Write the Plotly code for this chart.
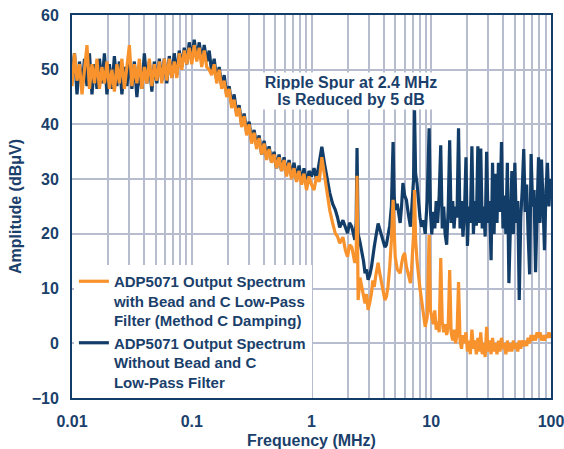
import plotly.graph_objects as go

# ---------------- data ----------------
freq_a = [0.01, 0.01049, 0.01101, 0.01155, 0.01212, 0.01271, 0.01334, 0.01399, 0.01468, 0.0154,
          0.01616, 0.01695, 0.01778, 0.01866, 0.01957, 0.02054, 0.02154, 0.0226, 0.02371, 0.02488,
          0.0261, 0.02738, 0.02873, 0.03014, 0.03162, 0.03318, 0.03481, 0.03652, 0.03831, 0.0402,
          0.04217, 0.04424, 0.04642, 0.0487, 0.05109, 0.0536, 0.05623, 0.059, 0.0619, 0.06494,
          0.06813, 0.07148, 0.07499, 0.07868, 0.08254, 0.0866, 0.09085, 0.09532]
blue_a = [49, 53, 45.5, 51.5, 46.5, 52, 47, 53, 45.5, 51,
          46.5, 52, 47.5, 53, 45.5, 51, 46.5, 52.5, 47, 51.5,
          45.5, 50.5, 47, 52, 46.5, 51.5, 45, 50, 46.5, 53,
          47.5, 51.5, 46, 51.5, 47.5, 52, 48, 52, 47.5, 52.5,
          48.5, 53, 49, 53.5, 50.5, 54, 51, 55]
orange_a = [47, 53, 48, 51, 45.5, 50, 54.5, 46.5, 51, 47.5,
            52, 46.5, 50.5, 47.5, 51.5, 46.5, 50, 46, 51, 47.5,
            52, 46.5, 51, 54.5, 47, 51, 47.5, 52, 46.5, 50.5,
            47.5, 52, 47, 51, 48, 51.5, 47.5, 52, 48, 52,
            48.5, 51.5, 48.5, 53, 50, 53.5, 51, 54]

freq_b = [0.1, 0.1049, 0.1101, 0.1155, 0.1212, 0.1271, 0.1334, 0.1399, 0.1468, 0.154,
          0.1616, 0.1695, 0.1778, 0.1866, 0.1957, 0.2054, 0.2154, 0.226, 0.2371, 0.2488,
          0.261, 0.2738, 0.2873, 0.3014, 0.3162, 0.3318, 0.3481, 0.3652, 0.3831, 0.402,
          0.4217, 0.4424, 0.4642, 0.487, 0.5109, 0.536, 0.5623, 0.59, 0.619, 0.6494,
          0.6813, 0.7148, 0.7499, 0.7868, 0.8254, 0.866, 0.9085, 0.9532]
blue_b = [52, 55.5, 52, 55, 51.5, 54.5, 51.5, 53.5, 49.5, 52,
          48, 50.5, 47, 49, 45.5, 47, 43.5, 45.5, 42, 43.5,
          40, 42, 38.5, 40.5, 37, 39, 36, 38, 34.5, 37,
          34, 36, 33, 35, 32, 34.5, 31.5, 34, 31, 33.5,
          30.5, 33, 30, 32.5, 29.5, 32, 29, 31.5]
orange_b = [51, 54.5, 51.5, 54, 50.5, 53.5, 50.5, 50, 49, 51,
            47.5, 50, 46.5, 48, 45, 46.5, 43, 44.5, 41.5, 43,
            39.5, 41.5, 38, 40, 36.5, 38.5, 35.5, 37.5, 34.5, 36.5,
            33.5, 35.5, 33, 34.5, 32, 34, 31.5, 33.5, 30.5, 33,
            30, 32, 29.5, 31.5, 29, 31, 28, 30.5]

freq_c = [1.0, 1.05, 1.1, 1.16, 1.22, 1.28, 1.34, 1.42, 1.5, 1.58,
          1.65, 1.72, 1.83, 1.92, 2.0, 2.08, 2.17, 2.3, 2.36, 2.4,
          2.45, 2.54, 2.63, 2.72, 2.8, 2.88, 2.97, 3.07, 3.17, 3.25,
          3.34, 3.45, 3.6, 3.7, 3.8, 3.95, 4.1, 4.22, 4.35, 4.5,
          4.65, 4.8, 4.9, 5.0, 5.2, 5.5, 5.65, 5.8, 6.0, 6.2,
          6.45, 6.7, 6.85, 7.0, 7.12, 7.25, 7.4, 7.6, 7.8, 8.05,
          8.3, 8.6, 8.9, 9.25, 9.6, 9.85]
blue_c = [30.5, 32, 30, 33, 35.9, 33, 30.4, 27.5, 25.5, 24.4,
          23, 21.2, 22.5, 21, 20.1, 22, 21.3, 18.9, 22, 35.7,
          20, 18.5, 17, 15, 12.8, 13.5, 11.6, 12.5, 14, 16,
          17.6, 19.5, 21.9, 21, 20, 18.5, 17.6, 18, 19.4, 21.5,
          25, 36.8, 27, 24.4, 25.5, 22, 25, 29.3, 27, 26.2,
          23.5, 21.3, 24, 27.5, 30, 42.6, 31, 29.3, 26, 23,
          21.3, 22.5, 20, 26.2, 39.3, 24]
orange_c = [29, 28, 30.5, 29.5, 34, 31, 28, 24.3, 22, 20.1,
            19.5, 18.3, 19.4, 17, 15.8, 18, 17.6, 14.7, 16, 30.6,
            7.9, 12, 10.3, 8.5, 7.3, 9, 6.1, 7.5, 9.2, 11.5,
            10.3, 12.5, 14.7, 13, 11.6, 9.5, 7.9, 8.5, 10.3, 14,
            18.9, 26.2, 19, 15.8, 13.5, 12.8, 14.5, 15.8, 16.5, 14,
            12.5, 11, 13.5, 17, 20, 28, 19, 15.2, 12, 10,
            7.9, 5, 3, 4.8, 19.8, 6]

freq_d = [10.1, 10.4, 10.7, 11.0, 11.3, 11.65, 12.0, 12.35, 12.7, 13.05,
          13.45, 13.85, 14.25, 14.65, 15.1, 15.5, 15.95, 16.4, 16.9, 17.4,
          17.9, 18.4, 18.95, 19.5, 20.05, 20.6, 21.2, 21.85, 22.5, 23.1,
          23.8, 24.5, 25.2, 25.9, 26.65, 27.4, 28.2, 29.0, 29.85, 30.7,
          31.6, 32.5, 33.45, 34.4, 35.4, 36.4, 37.5, 38.6, 39.7, 40.85,
          42.0, 43.2, 44.5, 45.8, 47.1, 48.5, 49.9, 51.3, 52.8, 54.3,
          55.9, 57.5, 59.2, 60.9, 62.6, 64.4, 66.3, 68.2, 70.2, 72.2,
          74.3, 76.5, 78.7, 81.0, 83.3, 85.7, 88.2, 90.8, 93.4, 96.1,
          98.9, 100.0]
blue_d = [19.9, 24, 21, 26, 22, 27, 36.2, 21, 25, 20,
          18, 24.5, 37.1, 22, 26, 21, 25, 23, 39.3, 21,
          26, 19.5, 24, 34, 17.8, 25, 22, 36, 20, 26,
          21.5, 36, 22, 35.6, 21, 25, 19.5, 35, 22, 26,
          15.2, 33, 20, 31, 22, 33, 24, 36.8, 21, 27,
          20, 33, 11, 24, 31.5, 20, 33, 22, 26, 7.9,
          23, 28, 35.5, 24, 29, 20, 12.6, 34.6, 25, 28,
          13, 24, 34, 22, 33.6, 26, 17, 28, 33, 25,
          30, 27]
orange_d = [5, 3.5, 6, 2.5, 4, 2, 15.6, 4, 2, 3.5,
            1.5, 3, 13.4, 2, 0.5, 2.5, 0, 1.5, 11.2, 0.5,
            -1, 1.5, 0, 2, -1.5, 0.5, -2, 2.5, -1, 0.5,
            -2, 1, -1.5, 2, -2, 0, -2.5, 3, -1.5, 0.5,
            -2, 1, -1.5, 0, -2, 0.5, -1.5, 1, -1, 0,
            -2, 0.5, -1.5, 0, -1.5, 0.5, -1, 0, -1.5, 0.5,
            -1, 0.5, -0.5, 0.5, -0.5, 1, 0, 1.5, 0.5, 1.5,
            0.5, 2, 1, 2, 0.5, 1.5, 0.5, 1.5, 1, 2,
            1, 1.5]

x_tick_vals = [0.01, 0.02, 0.03, 0.04, 0.05, 0.06, 0.07, 0.08, 0.09,
               0.1, 0.2, 0.3, 0.4, 0.5, 0.6, 0.7, 0.8, 0.9,
               1, 2, 3, 4, 5, 6, 7, 8, 9,
               10, 20, 30, 40, 50, 60, 70, 80, 90, 100]
x_tick_text = ["0.01", "", "", "", "", "", "", "", "",
               "0.1", "", "", "", "", "", "", "", "",
               "1", "", "", "", "", "", "", "", "",
               "10", "", "", "", "", "", "", "", "", "100"]
y_tick_vals = [-10, 0, 10, 20, 30, 40, 50, 60]

name_orange = "ADP5071 Output Spectrum<br>with Bead and C Low-Pass<br>Filter (Method C Damping)"
name_blue = "ADP5071 Output Spectrum<br>Without Bead and C<br>Low-Pass Filter"

freq = freq_a + freq_b + freq_c + freq_d
blue = blue_a + blue_b + blue_c + blue_d
orange = orange_a + orange_b + orange_c + orange_d

# ---------------- style ----------------
NAVY = "#123d68"
ORANGE = "#f7922d"
GRID = "#b8bccf"
TEXT = "#1b3f6b"
FONT = "Liberation Sans, Arial, sans-serif"

fig = go.Figure()
fig.add_trace(go.Scatter(x=freq, y=blue, mode="lines", name=name_blue,
                         line=dict(color=NAVY, width=3.2), legendrank=2))
fig.add_trace(go.Scatter(x=freq, y=orange, mode="lines", name=name_orange,
                         line=dict(color=ORANGE, width=3.2), legendrank=1))

fig.update_layout(
    width=564, height=449,
    margin=dict(l=72, r=13, t=15, b=51),
    paper_bgcolor="white", plot_bgcolor="white",
    font=dict(family=FONT, size=16, color=TEXT, weight="bold"),
    legend=dict(x=0.004, y=0, xanchor="left", yanchor="bottom", bgcolor="white",
                font=dict(family=FONT, size=15, color=TEXT, weight="bold"),
                valign="top", itemwidth=30, tracegroupgap=4,
                borderwidth=0),
    annotations=[
        dict(text="Ripple Spur at 2.4 MHz", xref="paper", yref="paper",
             x=0.5825, y=0.851, showarrow=False, bgcolor="white",
             width=186, borderpad=1,
             font=dict(family=FONT, size=16, color=TEXT, weight="bold")),
        dict(text="Is Reduced by 5 dB", xref="paper", yref="paper",
             x=0.5825, y=0.807, showarrow=False, bgcolor="white",
             width=186, borderpad=1,
             font=dict(family=FONT, size=16, color=TEXT, weight="bold")),
    ],
)

fig.update_xaxes(type="log", range=[-2, 2], tickvals=x_tick_vals, ticktext=x_tick_text,
                 showgrid=True, gridcolor=GRID, gridwidth=1.5,
                 showline=True, linecolor=NAVY, linewidth=2, mirror=True,
                 ticks="", ticklabelstandoff=8, ticklabeloverflow="allow",
                 zeroline=False, automargin=False,
                 title=dict(text="Frequency (MHz)", standoff=10,
                            font=dict(family=FONT, size=16, color=TEXT, weight="bold")))
fig.update_yaxes(range=[-10, 60], tickvals=y_tick_vals,
                 showgrid=True, gridcolor=GRID, gridwidth=1.5,
                 showline=True, linecolor=NAVY, linewidth=2, mirror=True,
                 ticks="", ticklabelstandoff=8, ticklabeloverflow="allow",
                 zeroline=False, automargin=False,
                 title=dict(text="Amplitude (dBμV)", standoff=6,
                            font=dict(family=FONT, size=16, color=TEXT, weight="bold")))

fig.write_html("out.html")
